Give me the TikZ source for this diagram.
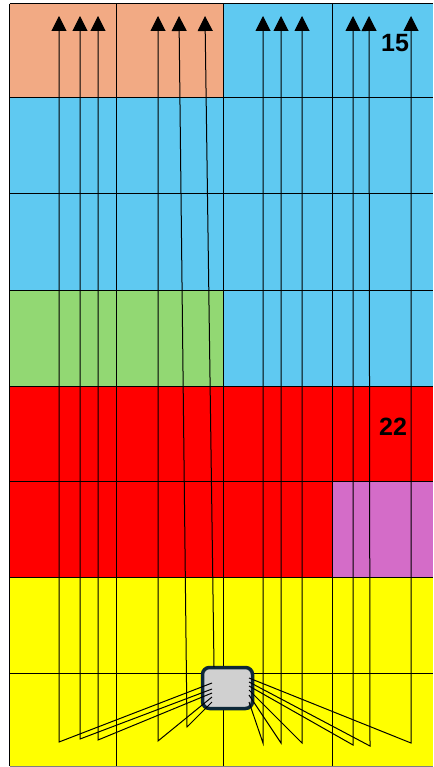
\documentclass[tikz,border=0pt]{standalone}
\usepackage{fontspec}
\setmainfont{Liberation Sans}
\usetikzlibrary{arrows.meta}
\definecolor{zsalmon}{HTML}{F2AA84}
\definecolor{zblue}{HTML}{5FC9F1}
\definecolor{zgreen}{HTML}{92D873}
\definecolor{zred}{HTML}{FF0000}
\definecolor{zpink}{HTML}{D46CC8}
\definecolor{zyellow}{HTML}{FFFF00}
\definecolor{chipgray}{HTML}{D0D0D0}
\definecolor{chipline}{HTML}{0D2838}
\begin{document}
\begin{tikzpicture}[x=1pt, y=-1pt]
    \tikzset{grid/.style={draw=black, line width=1pt},
             wire/.style={line width=1pt, -{Triangle[width=15pt, length=15pt]}},
             num/.style={font=\fontsize{25}{25}\selectfont\bfseries},
             chip/.style={draw=chipline, fill=chipgray, line width=3.5pt, rounded corners=7pt,
                          minimum width=50pt, minimum height=41pt, inner sep=0pt}}
    \useasboundingbox (0,0) rectangle (433,767);
    \clip (0,0) rectangle (433,767);

    % ---- Zones ----
    \fill[zsalmon] (9.5,4) rectangle (224,98);
    \fill[zblue] (224,4) rectangle (433,98);
    \fill[zblue] (9.5,98) rectangle (433,290);
    \fill[zgreen] (9.5,290) rectangle (224,386);
    \fill[zblue] (224,290) rectangle (433,386);
    \fill[zred] (9.5,386) rectangle (433,481);
    \fill[zred] (9.5,481) rectangle (332,577);
    \fill[zpink] (332,481) rectangle (433,577);
    \fill[zyellow] (9.5,577) rectangle (433,766);

    % ---- Grid ----
    \draw[grid] (9.5,4) -- (9.5,766) (116.5,4) -- (116.5,766)
                (223.5,4) -- (223.5,766) (332.5,4) -- (332.5,766);
    \draw[grid] (9.5,4) -- (433,4) (9.5,98) -- (433,98) (9.5,194) -- (433,194)
                (9.5,290) -- (433,290) (9.5,386) -- (433,386) (9.5,481) -- (433,481)
                (9.5,577) -- (433,577) (9.5,673) -- (433,673);
    \draw[grid, draw=gray] (9.5,766) -- (433,766);

    % ---- Chip ----
    \node[chip] (chip) at (227.5,688) {};

    % ---- Wire points ----
    \coordinate (s1) at (212,683);  \coordinate (b1) at (59,742);   \coordinate (t1) at (59,16);
    \coordinate (s2) at (212,689);  \coordinate (b2) at (80,739);   \coordinate (t2) at (80,16);
    \coordinate (s3) at (212,693);  \coordinate (b3) at (98,740);   \coordinate (t3) at (98,16);
    \coordinate (s4) at (212,697);  \coordinate (b4) at (158,741);  \coordinate (t4) at (158,16);
    \coordinate (s5) at (212,702);  \coordinate (b5) at (187,727);  \coordinate (t5) at (179,16);
    \coordinate (s6) at (214,667);                                  \coordinate (t6) at (205,16);
    \coordinate (s7) at (249,702);  \coordinate (b7) at (263,743);  \coordinate (t7) at (263,16);
    \coordinate (s8) at (249,695);  \coordinate (b8) at (281,743);  \coordinate (t8) at (281,16);
    \coordinate (s9) at (249,690);  \coordinate (b9) at (302,743);  \coordinate (t9) at (302,16);
    \coordinate (s10) at (249,686); \coordinate (b10) at (353,745); \coordinate (t10) at (353,16);
    \coordinate (s11) at (249,682); \coordinate (b11) at (370,746); \coordinate (t11) at (369,16);
    \coordinate (s12) at (249,678); \coordinate (b12) at (411,743); \coordinate (t12) at (411,16);

    % ---- Wires ----
    \draw[wire] (s1) -- (b1) -- (t1);
    \draw[wire] (s2) -- (b2) -- (t2);
    \draw[wire] (s3) -- (b3) -- (t3);
    \draw[wire] (s4) -- (b4) -- (t4);
    \draw[wire] (s5) -- (b5) -- (t5);
    \draw[wire] (s6) -- (t6);
    \draw[wire] (s7) -- (b7) -- (t7);
    \draw[wire] (s8) -- (b8) -- (t8);
    \draw[wire] (s9) -- (b9) -- (t9);
    \draw[wire] (s10) -- (b10) -- (t10);
    \draw[wire] (s11) -- (b11) -- (t11);
    \draw[wire] (s12) -- (b12) -- (t12);

    % ---- Labels ----
    \node[num] (lbl15) at (395,43) {15};
    \node[num] (lbl22) at (393,427) {22};
\end{tikzpicture}
\end{document}
